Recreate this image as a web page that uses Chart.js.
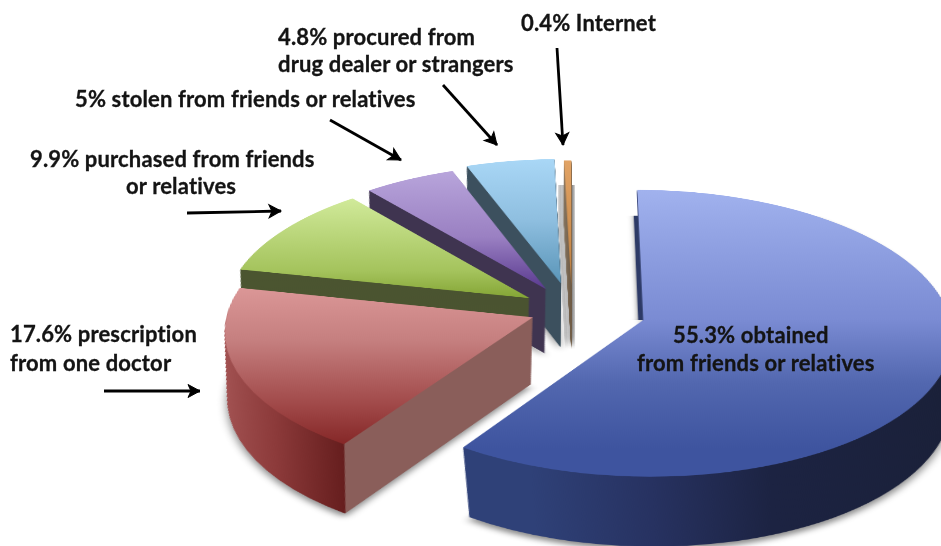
<!DOCTYPE html>
<html>
<head>
<meta charset="utf-8">
<title>Sources of prescription drugs</title>
<script src="https://cdn.jsdelivr.net/npm/chart.js@4"></script>
<style>
  html, body { margin: 0; padding: 0; background: #fff; width: 941px; height: 546px; overflow: hidden; }
  #stage { position: relative; width: 941px; height: 546px; overflow: hidden; }
  /* The flat pie is tilted back in 3D around its own centre. */
  #pie {
    position: absolute; left: -128px; top: -190px;
    transform-origin: 700px 500px;
    transform: perspective(2960px) rotateX(62.6deg);
  }
  #arrows { position: absolute; left: 0; top: 0; }
  .label {
    position: absolute; white-space: nowrap; transform: translateY(-50%);
    font: 700 22px Lato, "Open Sans", sans-serif; color: #141414;
    letter-spacing: 0.15px; -webkit-text-stroke: 0.3px #141414;
  }
</style>
</head>
<body>
<div id="stage">
  <canvas id="pie" width="1400" height="1000"></canvas>
  <svg id="arrows" width="941" height="546" xmlns="http://www.w3.org/2000/svg">
    <defs>
      <marker id="head" markerUnits="userSpaceOnUse" markerWidth="18" markerHeight="16" refX="14" refY="8" orient="auto">
        <path d="M2 1.5 L14 8 L2 14.5 L5 8 Z" fill="#000" stroke="#000" stroke-width="1"/>
      </marker>
    </defs>
    <g stroke="#000" stroke-width="2.8" fill="none">
      <line x1="557" y1="48" x2="563" y2="145" marker-end="url(#head)"/>
      <line x1="443" y1="85" x2="497" y2="145" marker-end="url(#head)"/>
      <line x1="330" y1="120" x2="401" y2="160" marker-end="url(#head)"/>
      <line x1="187" y1="213" x2="281" y2="211" marker-end="url(#head)"/>
      <line x1="104" y1="391" x2="200" y2="391" marker-end="url(#head)"/>
    </g>
  </svg>
  <div class="label" style="left:521px;top:22px">0.4% Internet</div>
  <div class="label" style="left:278px;top:36px">4.8% procured from</div>
  <div class="label" style="left:278px;top:63px">drug dealer or strangers</div>
  <div class="label" style="left:75px;top:98px">5% stolen from friends or relatives</div>
  <div class="label" style="left:30px;top:158px">9.9% purchased from friends</div>
  <div class="label" style="left:126px;top:185px">or relatives</div>
  <div class="label" style="left:10px;top:333px">17.6% prescription</div>
  <div class="label" style="left:10px;top:362px">from one doctor</div>
  <div class="label" style="left:673px;top:334px">55.3% obtained</div>
  <div class="label" style="left:637px;top:362px">from friends or relatives</div>
</div>
<script>
// Share of respondents per source, in percent.
const categories = [
  'obtained from friends or relatives',
  'prescription from one doctor',
  'purchased from friends or relatives',
  'stolen from friends or relatives',
  'procured from drug dealer or strangers',
  'Internet'
];
const shares = [55.3, 17.6, 9.9, 5, 4.8, 0.4];
// How far each slice is pulled out from the centre.
const explode = [74, 42, 50, 53, 60, 55];

// Wedge-local colour ramps: [offset from pie centre, colour].
const topRamps = [
  [[-305, '#a1b2ee'], [0, '#7a8bd3'], [130, '#5267af'], [255, '#3e549f']],
  [[-80, '#de9a9a'], [50, '#c57f7f'], [180, '#a04848'], [255, '#842626']],
  [[-240, '#d2eb9c'], [-60, '#a4c35c'], [0, '#84a535']],
  [[-290, '#b9a6dc'], [-120, '#9a80c2'], [0, '#5a3a90']],
  [[-305, '#a9d7f6'], [-150, '#8fbfe0'], [0, '#5a95b8']],
  [[-305, '#e2a466'], [0, '#c08040']]
];
const wallRamps = [
  [[-110, '#2f4178'], [0, '#273261'], [110, '#1c2342'], [305, '#1a2038']],
  [[-305, '#a35353'], [-240, '#8c3a3a'], [-171, '#661e1e'], [-170, '#8a5e5a'], [10, '#8a5e5a']],
  [[-305, '#4b5530'], [0, '#4a5330']],
  [[-305, '#3f3450'], [0, '#3f3450']],
  [[-305, '#3c505e'], [0, '#3c505e']],
  [[-10, '#8a7a66'], [0, '#6e5a44']]
];
const paintOrder = [5, 4, 3, 2, 1, 0];
const WALL_LAYERS = 130;

function ramp(ctx, stops, cx, cy, horizontal) {
  const lo = stops[0][0], hi = stops[stops.length - 1][0];
  const g = horizontal
    ? ctx.createLinearGradient(cx + lo, 0, cx + hi, 0)
    : ctx.createLinearGradient(0, cy + lo, 0, cy + hi);
  stops.forEach(([pos, colour]) => g.addColorStop((pos - lo) / (hi - lo), colour));
  return g;
}

// Draws one arc element in the given fill, keeping all its geometry.
function paintArc(el, ctx, fill) {
  const view = Object.create(el);
  view.options = {
    backgroundColor: fill, borderColor: fill, borderWidth: 0, borderAlign: 'center',
    borderRadius: 0, offset: 0, spacing: 0, circular: true
  };
  view.draw(ctx);
}

// One extruded copy of a slice, t = 0 at its top face and t = 1 at its base.
function paintLayer(el, ctx, fill, t, cx, cy, dx) {
  ctx.save();
  ctx.translate(cx + dx, cy);
  ctx.transform(1 - 0.055 * t, 0, 0, 1 - 0.063 * t, 0, 138 * t);
  ctx.translate(-cx, -cy);
  paintArc(el, ctx, fill);
  ctx.restore();
}

// Extrudes every slice into a solid and pulls it away from the centre.
const solidSlices = {
  id: 'solidSlices',
  beforeDatasetsDraw(chart) {
    const ctx = chart.ctx;
    const arcs = chart.getDatasetMeta(0).data;
    paintOrder.forEach((i) => {
      const el = arcs[i];
      const cx = el.x, cy = el.y;
      const mid = (el.startAngle + el.endAngle) / 2;
      ctx.save();
      ctx.translate(Math.cos(mid) * explode[i], Math.sin(mid) * explode[i]);

      // The narrow slice has a pale side face and a faint shadow beside it.
      if (i === 5) {
        ctx.save();
        ctx.beginPath();
        ctx.rect(cx - 400, cy - 240, 800, 600);
        ctx.clip();
        [[3, '#bdbdbd'], [2, '#a6a6a6'], [1, '#909090'], [-6, '#cfcfcf'], [-5, '#c6c6c6'], [-4, '#bebebe'], [-3, '#c6c6c6'], [-2, '#c0c0c0'], [-1, '#bbbbbb']].forEach(([dx, tone]) => {
          for (let k = WALL_LAYERS; k >= 0; k -= 4) {
            paintLayer(el, ctx, tone, k / WALL_LAYERS, cx, cy, dx);
          }
        });
        ctx.restore();
      }

      // Side walls, farthest layer first; the last layer casts the soft ground shadow.
      const wall = ramp(ctx, wallRamps[i], cx, cy, true);
      for (let k = WALL_LAYERS; k >= 1; k--) {
        ctx.save();
        if (k === WALL_LAYERS && i !== 5) {
          ctx.shadowColor = 'rgba(0,0,0,0.45)';
          ctx.shadowBlur = 8;
          ctx.shadowOffsetY = 6;
        }
        paintLayer(el, ctx, wall, k / WALL_LAYERS, cx, cy, 0);
        ctx.restore();
      }

      // Thin inner face that shows beside the large slice.
      if (i === 0) {
        ctx.save();
        ctx.beginPath();
        ctx.rect(cx - 400, cy - 240, 800, 240);
        ctx.clip();
        ctx.translate(-5, 0);
        ctx.shadowColor = 'rgba(0,0,0,0.4)';
        ctx.shadowBlur = 6;
        paintArc(el, ctx, '#2d3a66');
        ctx.restore();
      }

      // Lit top surface.
      paintArc(el, ctx, ramp(ctx, topRamps[i], cx, cy, false));
      ctx.restore();
    });
    return false;
  }
};

new Chart(document.getElementById('pie'), {
  type: 'pie',
  data: {
    labels: categories,
    datasets: [{ data: shares, borderWidth: 0, hoverOffset: 0 }]
  },
  options: {
    responsive: false,
    animation: false,
    events: [],
    rotation: 0,
    layout: { padding: { left: 395, right: 395, top: 195, bottom: 195 } },
    plugins: { legend: { display: false }, tooltip: { enabled: false } }
  },
  plugins: [solidSlices]
});
</script>
</body>
</html>
